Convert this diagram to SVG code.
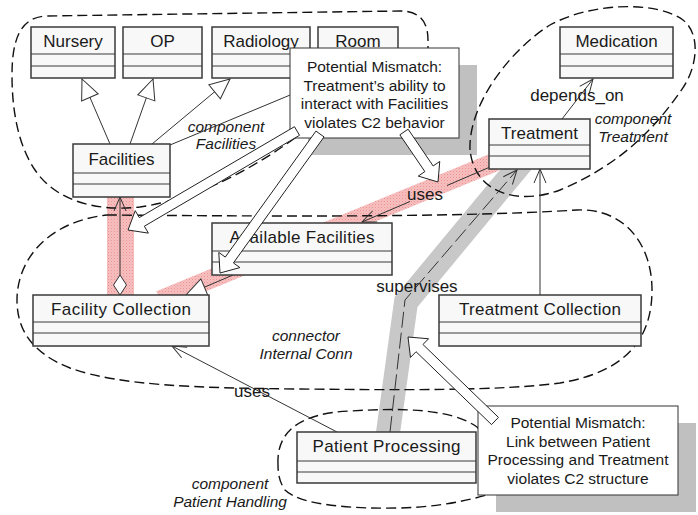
<svg xmlns="http://www.w3.org/2000/svg" width="698" height="515" viewBox="0 0 698 515">
<defs>
<style>
.box{fill:#f8f8f8;stroke:#3a3a3a;stroke-width:1.5}
.div{stroke:#3a3a3a;stroke-width:1.2;fill:none}
.cls,.lbl{font-family:'Liberation Sans',Arial,sans-serif;font-size:17px;fill:#1a1a1a;text-anchor:middle}
.ital{font-family:'Liberation Sans',Arial,sans-serif;font-size:15.5px;font-style:italic;fill:#1a1a1a;text-anchor:middle}
.note{fill:#fff;stroke:#333;stroke-width:1}
.ntxt{font-family:'Liberation Sans',Arial,sans-serif;font-size:15.5px;fill:#1a1a1a;text-anchor:middle}
.shadow{fill:#c0c0c0}
.blob{fill:none;stroke:#111;stroke-width:1.4;stroke-dasharray:10 5}
.conn{fill:none;stroke:#333;stroke-width:1}
.block{fill:#fff;stroke:#222;stroke-width:1}
</style>
<pattern id="pink" width="3" height="3" patternUnits="userSpaceOnUse">
<rect width="3" height="3" fill="#f7c0c0"/><rect width="1" height="1" fill="#ec9090"/><rect x="1.5" y="1.5" width="1" height="1" fill="#f0a4a4"/>
</pattern>
<marker id="tri" viewBox="-21 -10 22 20" markerWidth="22" markerHeight="20" refX="0" refY="0" orient="auto" markerUnits="userSpaceOnUse" overflow="visible"><path d="M0,0 L-20,-9 L-20,9 Z" fill="#fff" stroke="#333" stroke-width="1"/></marker>
<marker id="open" viewBox="-15 -8 16 16" markerWidth="16" markerHeight="16" refX="0" refY="0" orient="auto" markerUnits="userSpaceOnUse" overflow="visible"><path d="M-14,-6 L0,0 L-14,6" fill="none" stroke="#333" stroke-width="1"/></marker>
<marker id="dia" viewBox="-1 -8 22 16" markerWidth="22" markerHeight="16" refX="0" refY="0" orient="auto" markerUnits="userSpaceOnUse" overflow="visible"><path d="M0,0 L10,-6.5 L20,0 L10,6.5 Z" fill="#fff" stroke="#333" stroke-width="1"/></marker>
</defs>
<rect width="698" height="515" fill="#fff"/>

<g id="shadows">
<rect class="shadow" x="308" y="65" width="169" height="90"/>
<rect class="shadow" x="496" y="423" width="200" height="89"/>
</g>

<g id="highlights">
<rect x="107" y="190" width="27" height="110" fill="url(#pink)"/>
<polygon points="156.4,291.2 491.4,153.2 498.6,170.8 163.6,308.8" fill="url(#pink)"/>
<polyline points="387,440 406,302 522,162" fill="none" stroke="#c8c8c8" stroke-width="24" stroke-linejoin="miter"/>
</g>

<g id="regions">
<path id="comp-facilities" class="blob" d="M295,138 C250,170 200,198 140,207 C95,212 55,200 35,170 C18,145 12,110 12,75 C12,40 20,18 45,16 L400,11 C420,11 428,22 428,40 L428,60 L305,128 Z"/>
<path id="comp-treatment" class="blob" d="M470,150 C468,105 510,50 550,25 C590,3 655,0 683,20 C702,35 697,70 680,92 C655,128 620,165 560,190 C520,205 475,195 470,150 Z"/>
<path id="conn-internal" class="blob" d="M107,215 C250,216 450,218 577,210 C625,208 652,245 652,290 C652,340 625,372 560,383 C500,391 400,390 300,389 C200,388 120,386 70,368 C32,353 17,330 17,300 C17,262 45,222 107,215 Z"/>
<path id="comp-patient" class="blob" d="M278,465 C276,428 305,413 350,411 C400,408 450,408 477,427 L500,450 L490,494 C470,500 440,507 400,508 C350,509 300,505 285,490 C280,483 278,475 278,465 Z"/>
<text class="ital" x="226" y="132">component</text>
<text class="ital" x="226" y="149">Facilities</text>
<text class="ital" x="633" y="124">component</text>
<text class="ital" x="633" y="142">Treatment</text>
<text class="ital" x="306" y="341">connector</text>
<text class="ital" x="306" y="359">Internal Conn</text>
<text class="ital" x="230" y="489">component</text>
<text class="ital" x="230" y="507">Patient Handling</text>
</g>

<g id="connectors">
<path class="conn" d="M110,144 L82,79" marker-end="url(#tri)"/>
<path class="conn" d="M130,144 L153,79" marker-end="url(#tri)"/>
<path class="conn" d="M152,144 L230,79" marker-end="url(#tri)"/>
<path class="conn" d="M170,145 L331,78" marker-end="url(#tri)"/>
<path class="conn" d="M120,295 L120,197" marker-start="url(#dia)" marker-end="url(#open)"/>
<path class="conn" d="M233,275 L186,295" marker-end="url(#tri)"/>
<path class="conn" d="M490,167 L447,185.5"/>
<path class="conn" d="M410,201.5 L362,222" marker-end="url(#open)"/>
<path class="conn" d="M337,432 L172,346" marker-end="url(#open)"/>
<path class="conn" d="M540,295 L540,169" marker-end="url(#open)"/>
<path class="conn" d="M562,119 L593,79" marker-end="url(#open)"/>
<path class="conn" d="M390,432 L405,300 L517,170" stroke-dasharray="16 5" marker-end="url(#open)"/>
<text class="lbl" x="425" y="200">uses</text>
<text class="lbl" x="252" y="397">uses</text>
<text class="lbl" x="417" y="292">supervises</text>
<text class="lbl" x="577" y="101">depends_on</text>
</g>

<g id="nursery"><rect class="box" x="31" y="27" width="84" height="51"/><path class="div" d="M31,54H115M31,66H115"/><text class="cls" x="73" y="47">Nursery</text></g>
<g id="op"><rect class="box" x="123" y="27" width="79" height="51"/><path class="div" d="M123,54H202M123,66H202"/><text class="cls" x="162.5" y="47">OP</text></g>
<g id="radiology"><rect class="box" x="212" y="27" width="98" height="51"/><path class="div" d="M212,54H310M212,66H310"/><text class="cls" x="261" y="47">Radiology</text></g>
<g id="room"><rect class="box" x="318" y="27" width="80" height="51"/><path class="div" d="M318,54H398M318,66H398"/><text class="cls" x="358" y="47">Room</text></g>
<g id="facilities"><rect class="box" x="73" y="144" width="97" height="53"/><path class="div" d="M73,173H170M73,184H170"/><text class="cls" x="121.5" y="165">Facilities</text></g>
<g id="medication"><rect class="box" x="560" y="27" width="113" height="51"/><path class="div" d="M560,54H673M560,66H673"/><text class="cls" x="616.5" y="47">Medication</text></g>
<g id="treatment"><rect class="box" x="489" y="119" width="101" height="50"/><path class="div" d="M489,145H590M489,156H590"/><text class="cls" x="539.5" y="139">Treatment</text></g>
<g id="available-facilities"><rect class="box" x="212" y="223" width="180" height="52"/><path class="div" d="M212,251H392M212,262H392"/><text class="cls" x="302" y="243" textLength="145" lengthAdjust="spacing">Available Facilities</text></g>
<g id="facility-collection"><rect class="box" x="33" y="295" width="176" height="51"/><path class="div" d="M33,322H209M33,333H209"/><text class="cls" x="121" y="315" textLength="140" lengthAdjust="spacing">Facility Collection</text></g>
<g id="treatment-collection"><rect class="box" x="439" y="295" width="202" height="51"/><path class="div" d="M439,322H641M439,333H641"/><text class="cls" x="540" y="315" textLength="162" lengthAdjust="spacing">Treatment Collection</text></g>
<g id="patient-processing"><rect class="box" x="297" y="432" width="179" height="51"/><path class="div" d="M297,461H476M297,472H476"/><text class="cls" x="386.5" y="452" textLength="148" lengthAdjust="spacing">Patient Processing</text></g>

<g id="note-behavior">
<rect class="note" x="290" y="48" width="169" height="90"/>
<text class="ntxt" x="374.5" y="72">Potential Mismatch:</text>
<text class="ntxt" x="374.5" y="90.5">Treatment’s ability to</text>
<text class="ntxt" x="374.5" y="109">interact with Facilities</text>
<text class="ntxt" x="374.5" y="127.5">violates C2 behavior</text>
</g>
<g id="note-structure">
<rect class="note" x="478" y="406" width="200" height="89"/>
<text class="ntxt" x="578" y="428">Potential Mismatch:</text>
<text class="ntxt" x="578" y="446.5">Link between Patient</text>
<text class="ntxt" x="578" y="465">Processing and Treatment</text>
<text class="ntxt" x="578" y="483.5">violates C2 structure</text>
</g>

<g id="mismatch-arrows">
<polygon class="block" points="294.47,126.69 139.28,217.60 135.24,210.69 128,230 148.38,233.13 144.34,226.22 299.53,135.31"/>
<polygon class="block" points="315.94,131.08 225.28,257.09 218.79,252.42 220,273 239.89,267.60 233.40,262.93 324.06,136.92"/>
<polygon class="block" points="399.87,134.81 424.87,171.58 418.25,176.08 438,182 439.75,161.46 433.14,165.96 408.14,129.19"/>
<polygon class="block" points="498.47,417.40 422.98,344.51 428.54,338.76 408,337 410.48,357.46 416.04,351.71 491.53,424.60"/>
</g>
</svg>
